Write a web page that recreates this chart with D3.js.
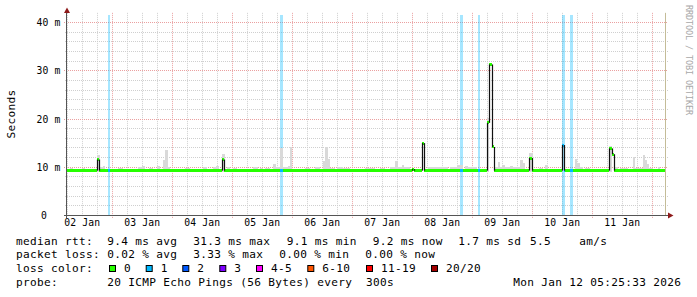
<!DOCTYPE html>
<html><head><meta charset="utf-8">
<script src="https://cdn.jsdelivr.net/npm/d3@7/dist/d3.min.js"></script>
<style>
html,body{margin:0;padding:0;background:#fff;}
svg{display:block;}
text{font-family:"DejaVu Sans Mono",monospace;fill:#000;}
</style></head><body>
<svg id="c" width="697" height="297"></svg>
<script>
// ---------------- data ----------------
const timeDomain = ["01-02 05:53", "01-12 05:05"];
const yMax = 42;
const yTicks = [0, 10, 20, 30, 40];
const yTickLabels = ["0", "10 m", "20 m", "30 m", "40 m"];
const dayLabelTimes = ["01-02 12:00","01-03 12:00","01-04 12:00","01-05 12:00","01-06 12:00","01-07 12:00","01-08 12:00","01-09 12:00","01-10 12:00","01-11 12:00"];
const dayLabels = ["02 Jan","03 Jan","04 Jan","05 Jan","06 Jan","07 Jan","08 Jan","09 Jan","10 Jan","11 Jan"];

// median rtt (ms), step changes
const medianTimes = ["01-02 05:53","01-02 17:53","01-02 18:41","01-04 20:00","01-04 20:48","01-07 23:53","01-08 00:41","01-08 04:00","01-08 04:48","01-09 06:00","01-09 06:48","01-09 08:00","01-09 08:48","01-09 22:48","01-10 00:00","01-10 12:00","01-10 12:48","01-11 06:48","01-11 08:00","01-11 08:48"];
const medianValues = [9.3,11.6,9.3,11.6,9.3,9.6,9.3,15.0,9.3,19.2,31.3,14.2,9.3,11.9,9.3,14.6,9.3,13.9,12.7,9.3];

// packet loss events (lost pings out of 20)
const lossStart = ["01-02 22:10","01-05 19:05","01-08 19:00","01-09 02:10","01-10 12:00","01-10 15:05"];
const lossEnd   = ["01-02 23:05","01-05 20:10","01-08 20:10","01-09 03:05","01-10 13:05","01-10 16:10"];
const lossCount = [1,1,1,1,1,1];

// smoke (spread of pings), top value in ms
const smokeStart = ["01-02 07:05","01-02 11:46","01-02 17:53","01-02 19:05","01-02 20:10","01-03 02:17","01-03 10:17","01-03 11:46","01-03 14:41","01-03 17:46","01-03 20:17","01-03 21:05","01-03 22:10","01-04 05:05","01-04 12:10","01-04 16:17","01-04 17:29","01-04 20:00","01-04 21:46","01-05 00:17","01-05 08:17","01-05 11:05","01-05 13:05","01-05 16:24","01-05 17:22","01-05 19:05","01-05 20:10","01-05 22:10","01-05 23:05","01-06 05:05","01-06 09:05","01-06 12:10","01-06 13:05","01-06 14:24","01-06 15:05","01-06 17:46","01-06 20:24","01-07 05:05","01-07 11:05","01-07 15:05","01-07 17:05","01-07 18:10","01-07 20:00","01-07 20:48","01-08 06:17","01-08 15:05","01-08 17:46","01-08 21:05","01-08 22:24","01-09 06:00","01-09 09:05","01-09 10:24","01-09 11:05","01-09 12:00","01-09 13:05","01-09 15:05","01-09 16:24","01-09 19:05","01-09 20:24","01-09 22:48","01-10 02:41","01-10 05:05","01-10 17:05","01-10 18:00","01-10 19:05","01-10 21:05","01-11 06:48","01-11 09:05","01-11 11:05","01-11 16:10","01-11 17:05","01-11 20:10","01-11 21:05","01-11 22:00","01-11 22:48","01-12 02:24"];
const smokeEnd = ["01-02 08:25","01-02 13:05","01-02 19:05","01-02 20:10","01-02 21:12","01-03 04:17","01-03 11:46","01-03 13:05","01-03 16:17","01-03 19:05","01-03 21:05","01-03 22:10","01-03 23:05","01-04 07:05","01-04 13:46","01-04 17:29","01-04 18:41","01-04 21:05","01-04 23:05","01-05 01:46","01-05 10:17","01-05 12:10","01-05 15:05","01-05 17:22","01-05 19:05","01-05 20:10","01-05 22:10","01-05 23:05","01-06 00:00","01-06 07:05","01-06 11:05","01-06 13:05","01-06 14:24","01-06 15:05","01-06 17:05","01-06 20:24","01-06 23:05","01-07 09:05","01-07 13:05","01-07 17:05","01-07 18:10","01-07 20:00","01-07 20:48","01-07 23:05","01-08 14:17","01-08 17:46","01-08 20:24","01-08 22:24","01-09 01:53","01-09 06:48","01-09 10:24","01-09 11:05","01-09 12:00","01-09 13:05","01-09 15:05","01-09 16:24","01-09 19:05","01-09 20:24","01-09 21:05","01-10 00:05","01-10 04:10","01-10 06:10","01-10 18:00","01-10 19:05","01-10 20:24","01-10 23:05","01-11 08:00","01-11 10:24","01-11 14:17","01-11 17:05","01-11 20:10","01-11 21:05","01-11 22:00","01-11 22:48","01-12 00:24","01-12 03:05"];
const smokeTop = [9.8,9.9,12.5,10.0,10.3,9.8,10.0,10.3,9.9,10.3,11.5,13.6,10.0,9.8,10.0,10.0,10.3,12.8,10.0,9.9,10.0,9.8,9.8,10.7,10.0,14.0,10.0,10.3,14.1,9.8,10.0,11.2,14.1,11.7,9.8,10.1,9.8,9.9,9.9,10.0,11.2,10.0,10.5,10.0,10.0,10.1,10.5,10.3,10.0,20.2,10.1,11.0,10.1,10.5,10.0,10.3,10.0,11.4,10.8,12.9,9.8,10.5,11.7,10.9,10.0,9.8,14.4,10.1,9.8,12.2,9.8,12.6,11.5,10.7,9.8,10.0];
const smokeBottom = 9.0;

// legend
const lossColorLabels = ["0","1","2","3","4-5","6-10","11-19","20/20"];
const lossColors = ["#26ff00","#00b8ff","#0059ff","#7e00ff","#ff00ff","#ff5500","#ff0000","#a10000"];
const lossUpper = [0,1,2,3,5,10,19,20];
const legendRows = [
  [["median rtt:",16],["9.4 ms avg",107.3],["31.3 ms max",193.3],["9.1 ms min",286.7],["9.2 ms now",372.7],["1.7 ms sd",458.3],["5.5",530],["am/s",579.3]],
  [["packet loss:",16],["0.02 % avg",107.3],["3.33 % max",193.3],["0.00 % min",279.3],["0.00 % now",365.3]],
  [["loss color:",16]],
  [["probe:",16],["20 ICMP Echo Pings (56 Bytes) every",107.3],["300s",366],["Mon Jan 12 05:25:33 2026",513.3]]
];
const legendBaselines = [244.8, 258.4, 272, 285.6];
const lossBoxX = [109,145.7,182.3,219.3,256,307.3,366,431];

// ---------------- drawing ----------------
const parseT = s => d3.utcParse("%Y-%m-%d %H:%M")("2026-" + s);
const svg = d3.select("#c");
const X0 = 67, X1 = 665, Y0 = 215.5;
const xS = d3.scaleUtc().domain(timeDomain.map(parseT)).range([X0, X1]);
const yS = d3.scaleLinear().domain([0, yMax]).range([Y0, Y0 - yMax * 4.825]);
const yTop = yS(yMax);
const px = v => Math.floor(v) + 0.5;

const g = svg.append("g");
// grid
const dash = "1,1";
const [t0, t1] = xS.domain();
const hours = d3.utcHour.every(6).range(t0, t1);
g.selectAll(".vmin").data(hours.filter(d => d.getUTCHours() !== 0)).join("line")
  .attr("x1", d => px(xS(d))).attr("x2", d => px(xS(d)))
  .attr("y1", yTop).attr("y2", 217).attr("stroke", "#cfcfcf").attr("stroke-dasharray", dash);
const minorY = d3.range(2, yMax, 2).filter(v => v % 10 !== 0);
g.selectAll(".hmin").data(minorY).join("line")
  .attr("x1", 65).attr("x2", 668).attr("y1", d => px(yS(d))).attr("y2", d => px(yS(d)))
  .attr("stroke", "#cfcfcf").attr("stroke-dasharray", dash);
g.selectAll(".vmaj").data(hours.filter(d => d.getUTCHours() === 0)).join("line")
  .attr("x1", d => px(xS(d))).attr("x2", d => px(xS(d)))
  .attr("y1", yTop).attr("y2", 218).attr("stroke", "#eaa0a0").attr("stroke-dasharray", dash);
g.selectAll(".hmaj").data(yTicks.slice(1)).join("line")
  .attr("x1", 64).attr("x2", 668).attr("y1", d => px(yS(d))).attr("y2", d => px(yS(d)))
  .attr("stroke", "#eaa0a0").attr("stroke-dasharray", dash);

// loss bars
const lossIdx = c => lossUpper.findIndex(u => c <= u);
g.selectAll(".loss").data(lossStart.map((s, i) => ({a: parseT(s), b: parseT(lossEnd[i]), c: lossCount[i]})))
  .join("rect")
  .attr("x", d => Math.round(xS(d.a))).attr("width", d => Math.max(2, Math.round(xS(d.b)) - Math.round(xS(d.a))))
  .attr("y", Math.round(yTop) + 2).attr("height", Math.round(Y0) - Math.round(yTop) - 2)
  .attr("fill", d => lossColors[lossIdx(d.c)]).attr("fill-opacity", 0.35);

// smoke
g.selectAll(".smoke").data(smokeStart.map((s, i) => ({a: parseT(s), b: parseT(smokeEnd[i]), v: smokeTop[i]})))
  .join("rect")
  .attr("x", d => Math.round(xS(d.a))).attr("width", d => Math.max(1, Math.round(xS(d.b)) - Math.round(xS(d.a))))
  .attr("y", d => Math.round(yS(d.v))).attr("height", d => Math.round(yS(smokeBottom)) - Math.round(yS(d.v)))
  .attr("fill", "#d9d9d9");

// median colored segments
const med = medianTimes.map((s, i) => ({t: parseT(s), v: medianValues[i]}));
const losses = lossStart.map((s, i) => ({a: parseT(s), b: parseT(lossEnd[i]), c: lossCount[i]}));
const bps = Array.from(new Set([...med.map(d => +d.t), ...losses.map(d => +d.a), ...losses.map(d => +d.b), +t1]))
  .filter(t => t >= +t0 && t <= +t1).sort((a, b) => a - b);
const medAt = t => { let v = med[0].v; for (const d of med) if (+d.t <= t) v = d.v; return v; };
const segs = [];
for (let i = 0; i < bps.length - 1; i++) {
  const mid = (bps[i] + bps[i + 1]) / 2;
  const l = losses.find(d => +d.a <= mid && +d.b > mid);
  segs.push({a: bps[i], b: bps[i + 1], v: medAt(bps[i]), c: l ? l.c : 0});
}
g.selectAll(".seg").data(segs).join("rect")
  .attr("x", d => Math.round(xS(d.a))).attr("width", d => Math.round(xS(d.b)) - Math.round(xS(d.a)))
  .attr("y", d => Math.round(yS(d.v) - 1.5)).attr("height", 3)
  .attr("fill", d => lossColors[lossIdx(d.c)]);
// black verticals at median changes
const jumps = med.slice(1).map((d, i) => ({t: d.t, from: med[i].v, to: d.v}));
g.selectAll(".jump").data(jumps).join("line")
  .attr("x1", d => px(xS(d.t))).attr("x2", d => px(xS(d.t)))
  .attr("y1", d => yS(d.from)).attr("y2", d => yS(d.to))
  .attr("stroke", "#111").attr("stroke-width", 1.2);

// right border rule
g.append("line").attr("x1", X1 + 0.5).attr("x2", X1 + 0.5).attr("y1", yTop).attr("y2", Y0)
  .attr("stroke", "#c4bc98");

// axes
g.append("line").attr("x1", 64).attr("x2", 669).attr("y1", px(Y0)).attr("y2", px(Y0)).attr("stroke", "#555");
g.append("line").attr("x1", 66.5).attr("x2", 66.5).attr("y1", 218).attr("y2", 10).attr("stroke", "#555");
g.append("path").attr("d", "M67,7.5 L64,13 L70,13 Z").attr("fill", "#8e1a1a");
g.append("path").attr("d", "M673.5,215.5 L668,212.5 L668,218.5 Z").attr("fill", "#8e1a1a");

// y tick labels
g.selectAll(".yl").data(yTicks).join("text")
  .attr("x", (d, i) => yTickLabels[i].includes("m") ? 60.5 : 47)
  .attr("y", d => px(yS(d)) + 3.5)
  .attr("text-anchor", "end").style("font-size", "9.72px").style("letter-spacing", "0.15px")
  .text((d, i) => yTickLabels[i]);
// x tick labels
g.selectAll(".xl").data(dayLabelTimes).join("text")
  .attr("x", d => xS(parseT(d))).attr("y", 226)
  .attr("text-anchor", "middle").style("font-size", "9.72px").style("letter-spacing", "0.15px")
  .text((d, i) => dayLabels[i]);

// y title
svg.append("text").attr("transform", "translate(14.5,114) rotate(-90)")
  .attr("text-anchor", "middle").style("font-size", "11.1px").style("letter-spacing", "0.32px")
  .text("Seconds");
// watermark
svg.append("text").attr("transform", "translate(685.5,5) rotate(90)")
  .style("font-size", "8.5px").style("letter-spacing", "-0.12px").style("fill", "#a8a8a8")
  .text("RRDTOOL / TOBI OETIKER");

// legend
legendRows.forEach((row, r) => {
  row.forEach(([txt, x]) => {
    svg.append("text").attr("x", x).attr("y", legendBaselines[r])
      .style("font-size", "11.1px").style("letter-spacing", "0.32px").text(txt);
  });
});
lossColorLabels.forEach((lab, i) => {
  svg.append("rect").attr("x", lossBoxX[i] + 0.5).attr("y", 265.5).attr("width", 6).attr("height", 6)
    .attr("fill", lossColors[i]).attr("stroke", "#000");
  svg.append("text").attr("x", lossBoxX[i] + 15).attr("y", legendBaselines[2])
    .style("font-size", "11.1px").style("letter-spacing", "0.32px").text(lab);
});
</script></body></html>
